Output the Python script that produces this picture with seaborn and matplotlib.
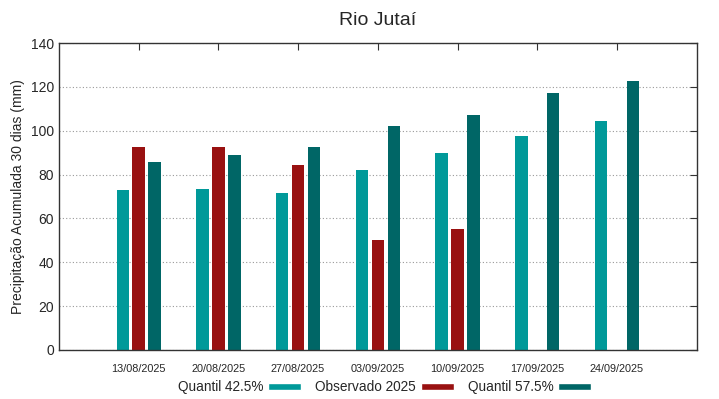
import pandas as pd
import numpy as np
import matplotlib
matplotlib.use("Agg")
import matplotlib.pyplot as plt
import seaborn as sns
from matplotlib.patches import Patch

# data
datas = ["13/08/2025", "20/08/2025", "27/08/2025", "03/09/2025",
         "10/09/2025", "17/09/2025", "24/09/2025"]
q425 = [72.9, 73.2, 71.5, 82.3, 89.9, 97.6, 104.6]
obs2025 = [92.5, 92.5, 84.4, 50.3, 55.0, np.nan, np.nan]
q575 = [85.6, 89.0, 92.5, 102.3, 107.0, 117.2, 122.7]

series = ["Quantil 42.5%", "Observado 2025", "Quantil 57.5%"]
cores = ["#009999", "#991111", "#006666"]

df = pd.DataFrame({"Data": datas * 3,
                   "Serie": [series[0]] * 7 + [series[1]] * 7 + [series[2]] * 7,
                   "Valor": q425 + obs2025 + q575})

sns.set_style("white")
plt.rcParams['font.family'] = ['Liberation Sans', 'DejaVu Sans']

fig = plt.figure(figsize=(7.19, 3.99), dpi=100)
ax = fig.add_axes([0.082, 0.123, 0.887, 0.769])

sns.barplot(data=df, x="Data", y="Valor", hue="Serie", order=datas,
            hue_order=series, palette=cores, width=0.6, gap=0.22,
            saturation=1, linewidth=0, ax=ax, legend=False)

ax.set_xlim(-1, 7)
ax.set_ylim(0, 140)
ax.set_yticks(range(0, 141, 20))
ax.set_axisbelow(True)
ax.yaxis.grid(True, linestyle=(0, (1, 2)), color="#999999", linewidth=0.8)
ax.tick_params(axis="x", direction="in", top=True, length=5, labelsize=7.8, pad=10, color="#333333")
ax.tick_params(axis="y", direction="in", right=True, length=5, labelsize=10, color="#333333")
for s in ax.spines.values():
    s.set_color("#333333")
    s.set_linewidth(1)

ax.set_xlabel("")
ax.set_ylabel("Precipitação Acumulada 30 dias (mm)", fontsize=10)
ax.set_title("Rio Jutaí", fontsize=14, pad=13)

# legend below, text before swatch (gnuplot style)
handles = [Patch(facecolor=c, label=s) for s, c in zip(series, cores)]
fig.legend(handles=handles, loc="center", bbox_to_anchor=(0.535, 0.030), ncol=3,
           frameon=False, markerfirst=False, fontsize=9.8, handlelength=2.43,
           handleheight=0.42, columnspacing=1.0, handletextpad=0.37)

fig.savefig("out.png", dpi=100)
